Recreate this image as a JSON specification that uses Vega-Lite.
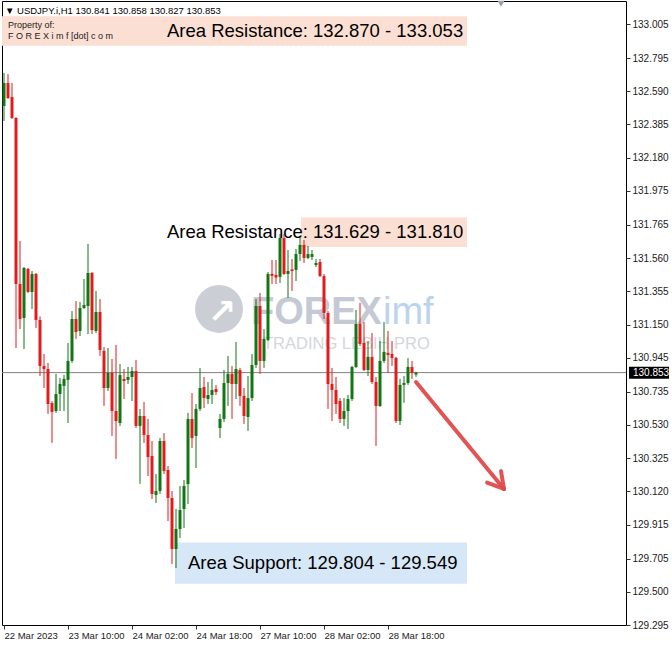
{
  "$schema": "https://vega.github.io/schema/vega-lite/v6.json",
  "width": 624,
  "height": 624,
  "padding": {"left": 1, "top": 0, "right": 0, "bottom": 0},
  "background": "white",
  "config": {
    "view": {"stroke": "#000000", "strokeWidth": 1},
    "axis": {"grid": false, "domain": false, "labelFont": "Liberation Sans", "labelColor": "#1a1a1a", "tickColor": "#333333", "title": null}
  },
  "datasets": {
    "candles": [
      {"i":0,"o":132.499,"h":132.703,"l":132.406,"c":132.641},
      {"i":1,"o":132.641,"h":132.696,"l":132.542,"c":132.548},
      {"i":2,"o":132.554,"h":132.641,"l":132.419,"c":132.425},
      {"i":3,"o":132.425,"h":132.430,"l":131.005,"c":131.400},
      {"i":4,"o":131.400,"h":131.666,"l":131.122,"c":131.184},
      {"i":5,"o":131.190,"h":131.505,"l":130.999,"c":131.499},
      {"i":6,"o":131.493,"h":131.499,"l":131.345,"c":131.351},
      {"i":7,"o":131.351,"h":131.480,"l":131.246,"c":131.462},
      {"i":8,"o":131.462,"h":131.468,"l":131.129,"c":131.178},
      {"i":9,"o":131.178,"h":131.200,"l":130.832,"c":130.894},
      {"i":10,"o":130.894,"h":130.968,"l":130.758,"c":130.875},
      {"i":11,"o":130.875,"h":130.912,"l":130.598,"c":130.659},
      {"i":12,"o":130.665,"h":130.677,"l":130.419,"c":130.610},
      {"i":13,"o":130.616,"h":130.845,"l":130.604,"c":130.721},
      {"i":14,"o":130.721,"h":130.820,"l":130.616,"c":130.783},
      {"i":15,"o":130.771,"h":130.839,"l":130.616,"c":130.814},
      {"i":16,"o":130.808,"h":131.036,"l":130.542,"c":130.925},
      {"i":17,"o":130.925,"h":131.233,"l":130.912,"c":131.184},
      {"i":18,"o":131.184,"h":131.295,"l":131.061,"c":131.104},
      {"i":19,"o":131.110,"h":131.289,"l":131.079,"c":131.252},
      {"i":20,"o":131.252,"h":131.431,"l":131.246,"c":131.270},
      {"i":21,"o":131.264,"h":131.647,"l":131.091,"c":131.468},
      {"i":22,"o":131.468,"h":131.474,"l":131.091,"c":131.116},
      {"i":23,"o":131.110,"h":131.357,"l":131.097,"c":131.227},
      {"i":24,"o":131.227,"h":131.307,"l":130.956,"c":130.993},
      {"i":25,"o":130.987,"h":131.011,"l":130.647,"c":130.758},
      {"i":26,"o":130.758,"h":131.005,"l":130.740,"c":130.851},
      {"i":27,"o":130.851,"h":130.937,"l":130.462,"c":130.616},
      {"i":28,"o":130.616,"h":131.024,"l":130.320,"c":130.554},
      {"i":29,"o":130.542,"h":130.906,"l":130.524,"c":130.838},
      {"i":30,"o":130.814,"h":130.875,"l":130.690,"c":130.801},
      {"i":31,"o":130.808,"h":130.888,"l":130.783,"c":130.826},
      {"i":32,"o":130.826,"h":130.888,"l":130.678,"c":130.863},
      {"i":33,"o":130.863,"h":130.931,"l":130.511,"c":130.524},
      {"i":34,"o":130.524,"h":130.629,"l":130.166,"c":130.585},
      {"i":35,"o":130.585,"h":130.672,"l":130.419,"c":130.468},
      {"i":36,"o":130.468,"h":130.567,"l":130.215,"c":130.332},
      {"i":37,"o":130.338,"h":130.431,"l":130.073,"c":130.104},
      {"i":38,"o":130.098,"h":130.227,"l":130.048,"c":130.122},
      {"i":39,"o":130.122,"h":130.449,"l":130.104,"c":130.431},
      {"i":40,"o":130.431,"h":130.480,"l":130.227,"c":130.246},
      {"i":41,"o":130.252,"h":130.277,"l":129.937,"c":130.079},
      {"i":42,"o":130.079,"h":130.122,"l":129.672,"c":129.764},
      {"i":43,"o":129.764,"h":130.011,"l":129.647,"c":129.888},
      {"i":44,"o":129.888,"h":130.153,"l":129.832,"c":130.005},
      {"i":45,"o":130.011,"h":130.190,"l":129.894,"c":130.153},
      {"i":46,"o":130.165,"h":130.604,"l":130.042,"c":130.567},
      {"i":47,"o":130.567,"h":130.727,"l":130.388,"c":130.449},
      {"i":48,"o":130.462,"h":130.659,"l":130.264,"c":130.629},
      {"i":49,"o":130.629,"h":130.882,"l":130.616,"c":130.758},
      {"i":50,"o":130.764,"h":130.826,"l":130.635,"c":130.696},
      {"i":51,"o":130.690,"h":130.795,"l":130.659,"c":130.715},
      {"i":52,"o":130.715,"h":130.814,"l":130.659,"c":130.746},
      {"i":53,"o":130.752,"h":130.777,"l":130.715,"c":130.733},
      {"i":54,"o":130.511,"h":130.598,"l":130.449,"c":130.567},
      {"i":55,"o":130.567,"h":130.869,"l":130.548,"c":130.789},
      {"i":56,"o":130.789,"h":130.956,"l":130.647,"c":130.845},
      {"i":57,"o":130.845,"h":130.894,"l":130.567,"c":130.783},
      {"i":58,"o":130.783,"h":131.042,"l":130.690,"c":130.875},
      {"i":59,"o":130.869,"h":130.882,"l":130.647,"c":130.709},
      {"i":60,"o":130.709,"h":130.758,"l":130.536,"c":130.585},
      {"i":61,"o":130.579,"h":130.832,"l":130.493,"c":130.696},
      {"i":62,"o":130.696,"h":130.968,"l":130.678,"c":130.900},
      {"i":63,"o":130.900,"h":131.307,"l":130.882,"c":131.264},
      {"i":64,"o":131.264,"h":131.345,"l":130.845,"c":130.925},
      {"i":65,"o":130.925,"h":131.122,"l":130.882,"c":131.061},
      {"i":66,"o":131.055,"h":131.474,"l":131.048,"c":131.462},
      {"i":67,"o":131.462,"h":131.548,"l":131.400,"c":131.450},
      {"i":68,"o":131.456,"h":131.548,"l":131.400,"c":131.440},
      {"i":69,"o":131.444,"h":131.709,"l":131.406,"c":131.684},
      {"i":70,"o":131.684,"h":131.709,"l":131.456,"c":131.462},
      {"i":71,"o":131.462,"h":131.610,"l":131.314,"c":131.480},
      {"i":72,"o":131.490,"h":131.554,"l":131.357,"c":131.480},
      {"i":73,"o":131.487,"h":131.616,"l":131.419,"c":131.585},
      {"i":74,"o":131.585,"h":131.696,"l":131.542,"c":131.641},
      {"i":75,"o":131.641,"h":131.672,"l":131.530,"c":131.561},
      {"i":76,"o":131.561,"h":131.635,"l":131.554,"c":131.585},
      {"i":77,"o":131.567,"h":131.610,"l":131.548,"c":131.585},
      {"i":78,"o":131.517,"h":131.554,"l":131.505,"c":131.530},
      {"i":79,"o":131.536,"h":131.554,"l":131.443,"c":131.449},
      {"i":80,"o":131.449,"h":131.462,"l":131.184,"c":131.221},
      {"i":81,"o":131.221,"h":131.233,"l":130.629,"c":130.783},
      {"i":82,"o":130.783,"h":130.882,"l":130.554,"c":130.746},
      {"i":83,"o":130.746,"h":130.826,"l":130.598,"c":130.659},
      {"i":84,"o":130.678,"h":130.696,"l":130.542,"c":130.567},
      {"i":85,"o":130.567,"h":130.696,"l":130.524,"c":130.616},
      {"i":86,"o":130.616,"h":130.715,"l":130.505,"c":130.690},
      {"i":87,"o":130.690,"h":130.894,"l":130.678,"c":130.888},
      {"i":88,"o":130.888,"h":131.240,"l":130.882,"c":131.153},
      {"i":89,"o":131.153,"h":131.283,"l":131.017,"c":131.030},
      {"i":90,"o":131.036,"h":131.165,"l":130.863,"c":130.869},
      {"i":91,"o":130.869,"h":131.048,"l":130.832,"c":130.950},
      {"i":92,"o":130.950,"h":131.098,"l":130.783,"c":130.795},
      {"i":93,"o":130.795,"h":130.826,"l":130.400,"c":130.647},
      {"i":94,"o":130.647,"h":131.048,"l":130.641,"c":130.925},
      {"i":95,"o":130.925,"h":131.165,"l":130.912,"c":130.981},
      {"i":96,"o":130.975,"h":131.110,"l":130.851,"c":130.962},
      {"i":97,"o":130.968,"h":131.048,"l":130.894,"c":130.944},
      {"i":98,"o":130.944,"h":130.950,"l":130.542,"c":130.554},
      {"i":99,"o":130.554,"h":130.814,"l":130.530,"c":130.777},
      {"i":100,"o":130.777,"h":130.832,"l":130.666,"c":130.789},
      {"i":101,"o":130.789,"h":130.943,"l":130.777,"c":130.888},
      {"i":102,"o":130.888,"h":130.925,"l":130.814,"c":130.851},
      {"i":103,"o":130.841,"h":130.858,"l":130.827,"c":130.853}
    ],
    "zones": [
      {"kind":"resistance","lo":132.870,"hi":133.053,"x0":-0.5,"x1":115.75,"tx":40.75,"text":"Area Resistance: 132.870 - 133.053"},
      {"kind":"resistance","lo":131.629,"hi":131.810,"x0":74.25,"x1":115.75,"tx":40.75,"text":"Area Resistance: 131.629 - 131.810"},
      {"kind":"support","lo":129.549,"hi":129.804,"x0":42.75,"x1":115.75,"tx":46,"text":"Area Support: 129.804 - 129.549"}
    ],
    "arrow": [
      {"x":103,"y":130.795,"x2":125,"y2":130.135},
      {"x":125,"y":130.135,"x2":124.25,"y2":130.245},
      {"x":125,"y":130.135,"x2":120.775,"y2":130.174}
    ]
  },
  "encoding": {
    "x": {"type": "quantitative", "title": null, "scale": {"domain": [-0.5, 155.5], "nice": false, "zero": false, "padding": 0},
      "axis": {"values": [0, 16, 32, 48, 64, 80, 96], "title": null, "tickSize": 4, "labelPadding": 1, "labelFontSize": 9.5, "labelAlign": "left", "labelFlush": false, "labelOverlap": false,
        "labelExpr": "datum.value == 0 ? '22 Mar 2023' : datum.value == 16 ? '23 Mar 10:00' : datum.value == 32 ? '24 Mar 02:00' : datum.value == 48 ? '24 Mar 18:00' : datum.value == 64 ? '27 Mar 10:00' : datum.value == 80 ? '28 Mar 02:00' : '28 Mar 18:00'"}},
    "y": {"type": "quantitative", "title": null, "scale": {"domain": [129.295, 133.147], "nice": false, "zero": false, "padding": 0},
      "axis": {"orient": "right", "title": null, "values": [133.005, 132.795, 132.59, 132.385, 132.18, 131.975, 131.765, 131.56, 131.355, 131.15, 130.945, 130.735, 130.53, 130.325, 130.12, 129.915, 129.705, 129.5, 129.295], "format": ".3f", "tickSize": 4, "labelPadding": 2, "labelFontSize": 10, "labelFlush": false, "labelOverlap": false}}
  },
  "layer": [
    {
      "data": {"name": "zones"},
      "mark": {"type": "rect"},
      "encoding": {
        "x": {"field": "x0"},
        "x2": {"field": "x1"},
        "y": {"field": "lo"},
        "y2": {"field": "hi"},
        "color": {"field": "kind", "type": "nominal", "scale": {"domain": ["resistance", "support"], "range": ["#fbdfd3", "#d6e7f7"]}, "legend": null}
      }
    },
    {
      "data": {"values": [{"i": 53.75, "p": 131.246}]},
      "mark": {"type": "point", "shape": "circle", "filled": true, "size": 2300, "color": "#cbced5", "opacity": 1},
      "encoding": {
        "x": {"field": "i"},
        "y": {"field": "p"}
      }
    },
    {
      "data": {"values": [{"i": 54.5, "p": 131.22, "t": "↗"}]},
      "mark": {"type": "text", "font": "DejaVu Sans", "fontWeight": "bold", "fontSize": 34, "color": "#ffffff", "align": "center", "baseline": "middle"},
      "encoding": {
        "x": {"field": "i"},
        "y": {"field": "p"},
        "text": {"field": "t"}
      }
    },
    {
      "data": {"values": [{"i": 61.75, "p": 131.221, "t": "FOREX"}]},
      "mark": {"type": "text", "font": "Liberation Sans", "fontWeight": "bold", "fontSize": 38, "color": "#c4c9d3", "align": "left", "baseline": "middle"},
      "encoding": {
        "x": {"field": "i"},
        "y": {"field": "p"},
        "text": {"field": "t"}
      }
    },
    {
      "data": {"values": [{"i": 94.75, "p": 131.221, "t": "imf"}]},
      "mark": {"type": "text", "font": "Liberation Sans", "fontSize": 38, "color": "#bcd3ee", "align": "left", "baseline": "middle"},
      "encoding": {
        "x": {"field": "i"},
        "y": {"field": "p"},
        "text": {"field": "t"}
      }
    },
    {
      "data": {"values": [{"i": 64.75, "p": 131.030, "t": "TRADING LEBIH PRO"}]},
      "mark": {"type": "text", "font": "Liberation Sans", "fontSize": 16.5, "color": "#d3d6db", "align": "left", "baseline": "middle"},
      "encoding": {
        "x": {"field": "i"},
        "y": {"field": "p"},
        "text": {"field": "t"}
      }
    },
    {
      "data": {"values": [{"p": 130.853}]},
      "mark": {"type": "rule", "color": "#808080", "strokeWidth": 1},
      "encoding": {
        "x": null,
        "y": {"field": "p"}
      }
    },
    {
      "data": {"name": "candles"},
      "mark": {"type": "rule", "strokeWidth": 1},
      "encoding": {
        "x": {"field": "i"},
        "y": {"field": "l"},
        "y2": {"field": "h"},
        "color": {"condition": {"test": "datum.c >= datum.o", "value": "#137513"}, "value": "#e01c1c"}
      }
    },
    {
      "data": {"name": "candles"},
      "mark": {"type": "bar", "size": 3},
      "encoding": {
        "x": {"field": "i"},
        "y": {"field": "o"},
        "y2": {"field": "c"},
        "color": {"condition": {"test": "datum.c >= datum.o", "value": "#137513"}, "value": "#e01c1c"}
      }
    },
    {
      "data": {"name": "zones"},
      "transform": [{"calculate": "(datum.lo + datum.hi) / 2", "as": "mid"}],
      "mark": {"type": "text", "font": "Liberation Sans", "fontSize": 18.5, "color": "#000000", "align": "left", "baseline": "middle"},
      "encoding": {
        "x": {"field": "tx"},
        "y": {"field": "mid"},
        "text": {"field": "text"}
      }
    },
    {
      "data": {"name": "arrow"},
      "mark": {"type": "rule", "color": "#e04a4a", "strokeWidth": 4, "strokeCap": "round", "opacity": 0.95},
      "encoding": {
        "x": {"field": "x"},
        "x2": {"field": "x2"},
        "y": {"field": "y"},
        "y2": {"field": "y2"}
      }
    },
    {
      "data": {"values": [{"i": 0.25, "p": 133.085, "t": "▼ USDJPY.i,H1  130.841 130.858 130.827 130.853"}]},
      "mark": {"type": "text", "font": "Liberation Sans", "fontSize": 9.5, "color": "#000000", "align": "left", "baseline": "middle"},
      "encoding": {
        "x": {"field": "i"},
        "y": {"field": "p"},
        "text": {"field": "t"}
      }
    },
    {
      "data": {"values": [{"i": 1, "p": 133.0, "t": "Property of:"}, {"i": 1, "p": 132.931, "t": "F O R E X i m f [dot] c o m"}]},
      "mark": {"type": "text", "font": "Liberation Sans", "fontSize": 9, "color": "#222222", "align": "left", "baseline": "middle"},
      "encoding": {
        "x": {"field": "i"},
        "y": {"field": "p"},
        "text": {"field": "t"}
      }
    },
    {
      "data": {"values": [{"a": 156.25, "b": 166.25, "lo": 130.815, "hi": 130.889}]},
      "mark": {"type": "rect", "color": "#000000"},
      "encoding": {
        "x": {"field": "a"},
        "x2": {"field": "b"},
        "y": {"field": "lo"},
        "y2": {"field": "hi"}
      }
    },
    {
      "data": {"values": [{"i": 157.25, "p": 130.853, "t": "130.853"}]},
      "mark": {"type": "text", "font": "Liberation Sans", "fontSize": 10, "color": "#ffffff", "align": "left", "baseline": "middle"},
      "encoding": {
        "x": {"field": "i"},
        "y": {"field": "p"},
        "text": {"field": "t"}
      }
    },
    {
      "data": {"values": [{"i": 124.25, "p": 133.13}]},
      "mark": {"type": "point", "shape": "triangle-down", "filled": true, "size": 50, "color": "#9aa2ad", "opacity": 1},
      "encoding": {
        "x": {"field": "i"},
        "y": {"field": "p"}
      }
    }
  ]
}
